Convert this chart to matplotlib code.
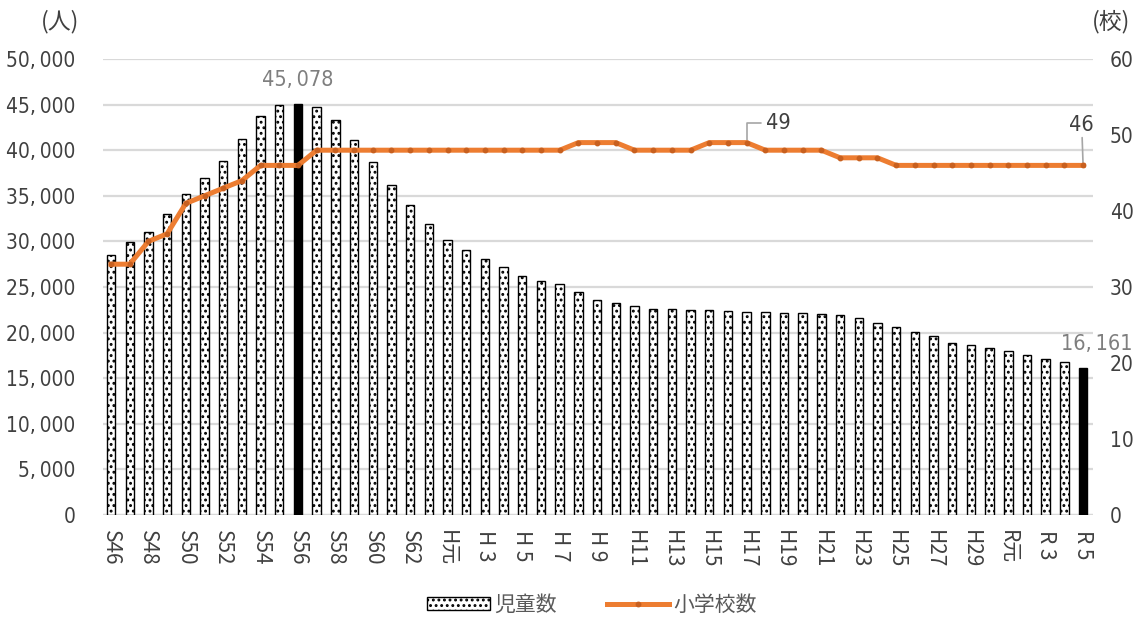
import matplotlib
matplotlib.use('Agg')
import matplotlib.pyplot as plt
from matplotlib import font_manager as fm
from matplotlib.patches import Patch
from matplotlib.lines import Line2D
import numpy as np

# ---------------- data ----------------
categories = (['S46', 'S47', 'S48', 'S49', 'S50', 'S51', 'S52', 'S53', 'S54', 'S55',
               'S56', 'S57', 'S58', 'S59', 'S60', 'S61', 'S62', 'S63',
               'H元', 'H 2', 'H 3', 'H 4', 'H 5', 'H 6', 'H 7', 'H 8', 'H 9', 'H10',
               'H11', 'H12', 'H13', 'H14', 'H15', 'H16', 'H17', 'H18', 'H19', 'H20',
               'H21', 'H22', 'H23', 'H24', 'H25', 'H26', 'H27', 'H28', 'H29', 'H30',
               'R元', 'R 2', 'R 3', 'R 4', 'R 5'])

students = [28500, 29900, 31050, 33000, 35150, 37000, 38800, 41200, 43750, 45000,
            45078, 44700, 43300, 41100, 38700, 36150, 34000, 31900,
            30200, 29060, 28070, 27200, 26200, 25700, 25300, 24400, 23600, 23200,
            22900, 22600, 22600, 22450, 22450, 22350, 22300, 22300, 22200, 22200,
            22000, 21900, 21600, 21050, 20600, 20070, 19600, 18900, 18600, 18350,
            17950, 17500, 17100, 16800, 16161]

schools = [33, 33, 36, 37, 41, 42, 43, 44, 46, 46,
           46, 48, 48, 48, 48, 48, 48, 48,
           48, 48, 48, 48, 48, 48, 48, 49, 49, 49,
           48, 48, 48, 48, 49, 49, 49, 48, 48, 48,
           48, 47, 47, 47, 46, 46, 46, 46, 46, 46,
           46, 46, 46, 46, 46]

highlight = ['S56', 'R 5']
shown_ticks = categories[::2]
bar_label_cats = ['S56', 'R 5']
line_label_cats = ['H17', 'R 5']

left_ticks = [0, 5000, 10000, 15000, 20000, 25000, 30000, 35000, 40000, 45000, 50000]
right_ticks = [0, 10, 20, 30, 40, 50, 60]

series_names = ['児童数', '小学校数']
unit_left = '(人)'
unit_right = '(校)'

# ---------------- fonts ----------------
cjk = 'Noto Sans CJK JP'
cond_path = None
for f in fm.fontManager.ttflist:
    base = f.fname.split('/')[-1]
    if base == 'DejaVuSansCondensed.ttf':
        cond_path = f.fname
        break
if cond_path is None:
    for f in fm.fontManager.ttflist:
        base = f.fname.split('/')[-1]
        if 'Narrow' in base and 'Liberation' in base and 'Bold' not in base and 'Italic' not in base:
            cond_path = f.fname
            break


def numfont(size):
    if cond_path:
        return fm.FontProperties(fname=cond_path, size=size)
    return fm.FontProperties(family='Liberation Sans', size=size)


def fmt(v):
    return f'{v:,}'.replace(',', ',\u2009')


plt.rcParams['font.family'] = [cjk, 'DejaVu Sans']
plt.rcParams['hatch.linewidth'] = 1.3

ORANGE = '#ED7D31'
TXT = '#404040'
GRID = '#D9D9D9'

fig = plt.figure(figsize=(11.42, 6.17), dpi=100)
ax = fig.add_axes([103 / 1142, 1 - 515 / 617, (1093 - 103) / 1142, (515 - 59) / 617])
ax2 = ax.twinx()

x = np.arange(len(categories))
face = ['black' if c in highlight else 'white' for c in categories]
bars = ax.bar(x, students, width=0.45, color=face, edgecolor='black', linewidth=1.0, zorder=3)
for b, c in zip(bars, categories):
    if c not in highlight:
        b.set_hatch('...')

ax2.plot(x, schools, color=ORANGE, lw=3.6, marker='o', markersize=3.2,
         markerfacecolor='#C8601F', markeredgecolor='#C8601F', zorder=4,
         solid_joinstyle='round')

ax.set_ylim(0, 50000)
ax2.set_ylim(0, 60)
ax.set_xlim(-0.43, len(categories) - 1 + 0.53)

ax.set_yticks(left_ticks)
ax.set_yticklabels([fmt(v) for v in left_ticks])
ax2.set_yticks(right_ticks)
ax2.set_yticklabels([str(v) for v in right_ticks])

ax.set_xticks([categories.index(c) for c in shown_ticks])
ax.set_xticklabels(shown_ticks, rotation=270, va='top', ha='center')

ax.yaxis.grid(True, color=GRID, lw=1.6, zorder=0)
ax.set_axisbelow(True)
for a in (ax, ax2):
    for s in ('top', 'right', 'left', 'bottom'):
        a.spines[s].set_visible(False)
ax.axhline(0, color=GRID, lw=1.6, zorder=2)

ax.tick_params(axis='y', length=0, pad=20, labelcolor=TXT)
ax2.tick_params(axis='y', length=0, pad=12, labelcolor=TXT)
ax.tick_params(axis='x', length=0, pad=11, labelcolor=TXT)
for lab in ax.get_yticklabels() + ax2.get_yticklabels():
    lab.set_fontproperties(numfont(15))
for lab in ax.get_xticklabels():
    lab.set_family([cjk, 'DejaVu Sans'])
    lab.set_fontsize(15)

# value labels on bars
for c in bar_label_cats:
    i = categories.index(c)
    dx = 10 if i == len(categories) - 1 else 0
    ax.annotate(fmt(students[i]), xy=(i, students[i]),
                xytext=(dx, 10), textcoords='offset points', ha='center', va='bottom',
                fontproperties=numfont(15.5), color='#7F7F7F')

# school labels with leader lines
i49 = categories.index(line_label_cats[0])
ax2.annotate(str(schools[i49]), xy=(i49, schools[i49]), xytext=(14, 14),
             textcoords='offset points', ha='left', va='center',
             fontproperties=numfont(15.5), color=TXT,
             arrowprops=dict(arrowstyle='-', color='#A6A6A6', lw=1.2,
                             connectionstyle='angle,angleA=0,angleB=90,rad=0',
                             shrinkA=2, shrinkB=2))
i46 = categories.index(line_label_cats[1])
ax2.annotate(str(schools[i46]), xy=(i46, schools[i46]), xytext=(-1, 22),
             textcoords='offset points', ha='center', va='bottom',
             fontproperties=numfont(15.5), color=TXT,
             arrowprops=dict(arrowstyle='-', color='#A6A6A6', lw=1.2, shrinkA=0, shrinkB=2))

# unit labels
fig.text(60 / 1142, 1 - 22 / 617, unit_left, ha='center', va='center', fontsize=16.5,
         color=TXT, family=[cjk, 'DejaVu Sans'])
fig.text(1111 / 1142, 1 - 22 / 617, unit_right, ha='center', va='center', fontsize=16.5,
         color=TXT, family=[cjk, 'DejaVu Sans'])

# legend
handles = [Patch(facecolor='white', edgecolor='black', hatch='...', linewidth=1.0),
           Line2D([0], [0], color=ORANGE, lw=3.6, marker='o', markersize=3.2,
                  markerfacecolor='#C8601F', markeredgecolor='#C8601F')]
leg = fig.legend(handles, series_names, loc='center', bbox_to_anchor=(592 / 1142, 1 - 605 / 617),
                 ncol=2, frameon=False, prop={'family': [cjk, 'DejaVu Sans'], 'size': 15},
                 handlelength=3.0, handleheight=0.55, columnspacing=2.4, handletextpad=0.2,
                 labelcolor='#595959')

fig.savefig('out.png', dpi=100)
